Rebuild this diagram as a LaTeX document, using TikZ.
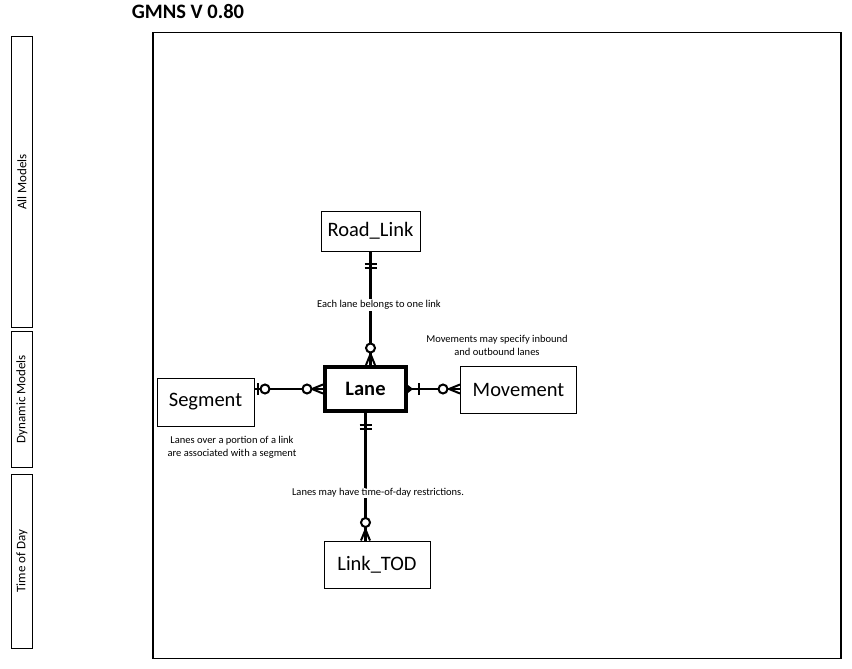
\documentclass[tikz,border=0pt]{standalone}
\usepackage{fontspec}
\setmainfont{Carlito}
\usetikzlibrary{calc}
\tikzset{
  entity/.style={draw, line width=1pt, rectangle, inner sep=0pt, font=\fontsize{20.5}{24}\selectfont},
  keyentity/.style={draw, line width=4pt, rectangle, inner sep=0pt, font=\bfseries\fontsize{20.5}{24}\selectfont},
  conn/.style={line width=2.2pt},
  markline/.style={line width=2pt},
  note/.style={font=\fontsize{10.5}{13}\selectfont, align=center, inner sep=1pt},
  sidebar/.style={draw, line width=1pt, rectangle, inner sep=0pt, minimum width=21pt},
  sidelabel/.style={font=\fontsize{13}{15}\selectfont, rotate=90},
  pics/crowsfoot/.style={code={\draw[markline] (0,4.5) -- (-11,0) -- (0,-4.5);}},
  pics/ringat/.style={code={\draw[markline, fill=white] (-#1,0) circle (4.5);}},
  pics/barat/.style={code={\draw[markline] (-#1,6) -- (-#1,-6);}},
  pics/wedge/.style={code={\fill (0,4) -- (-5,0) -- (0,-4) -- cycle;}}
}
\begin{document}
\begin{tikzpicture}[x=1pt,y=1pt]
\useasboundingbox (0,0) rectangle (852,-669);
% title
\node[font=\bfseries\fontsize{20.5}{24}\selectfont, inner sep=0pt] (title) at (188,-11) {GMNS V 0.80};
% main frame
\node[draw, line width=1.3pt, rectangle, inner sep=0pt, minimum width=688pt, minimum height=626pt] (frame) at (497,-345.5) {};
% side bars
\node[sidebar, minimum height=290pt] (bar1) at (22,-182) {};
\node[sidelabel] (lab1) at (bar1.center) {All Models};
\node[sidebar, minimum height=136pt] (bar2) at (22,-399) {};
\node[sidelabel] (lab2) at (bar2.center) {Dynamic Models};
\node[sidebar, minimum height=174pt] (bar3) at (22,-561) {};
\node[sidelabel] (lab3) at (bar3.center) {Time of Day};
% entities
\node[entity, minimum width=99pt, minimum height=40pt] (roadlink) at (370.5,-231) {Road\_Link};
\node[keyentity, minimum width=81pt, minimum height=44pt] (lane) at (365.5,-389) {Lane};
\node[entity, minimum width=97pt, minimum height=48pt] (segment) at (205.5,-402) {Segment};
\node[entity, minimum width=116pt, minimum height=47pt] (movement) at (518.5,-389.5) {Movement};
\node[entity, minimum width=106pt, minimum height=47pt] (linktod) at (377,-564.5) {Link\_TOD};
% connectors
\coordinate (lanetop) at (roadlink.south |- lane.north);
\draw[conn] (roadlink.south) -- (lanetop);
\coordinate (segright) at (lane.west -| segment.east);
\draw[conn] (lane.west) -- (segright);
\draw[conn] (lane.east) -- (lane.east -| movement.west);
\coordinate (todtop) at (lane.south |- linktod.north);
\draw[conn] (lane.south) -- (todtop);
% Road_Link -- Lane marks
\pic[rotate=90] at (roadlink.south) {barat=12};
\pic[rotate=90] at (roadlink.south) {barat=16};
\pic[rotate=-90] at (lanetop) {crowsfoot};
\pic[rotate=-90] at (lanetop) {ringat=17};
% Segment -- Lane marks
\pic[rotate=180] at (segright) {barat=3.5};
\pic[rotate=180] at (segright) {ringat=10.5};
\pic at (lane.west) {crowsfoot};
\pic at (lane.west) {ringat=16};
% Lane -- Movement marks
\pic[rotate=180] at (lane.east) {wedge};
\pic[rotate=180] at (lane.east) {barat=11};
\pic at (lane.east -| movement.west) {crowsfoot};
\pic at (lane.east -| movement.west) {ringat=17};
% Lane -- Link_TOD marks
\pic[rotate=90] at (lane.south) {barat=12};
\pic[rotate=90] at (lane.south) {barat=16};
\pic[rotate=-90] at (todtop) {crowsfoot};
\pic[rotate=-90] at (todtop) {ringat=18};
% notes
\node[note, fill=white] (n1) at (379,-305) {Each lane belongs to one link};
\node[note] (n2) at (497,-345) {Movements may specify inbound\\and outbound lanes};
\node[note] (n3) at (232,-447) {Lanes over a portion of a link\\are associated with a segment};
\node[note, fill=white] (n4) at (378,-493) {Lanes may have time-of-day restrictions.};
\end{tikzpicture}
\end{document}
